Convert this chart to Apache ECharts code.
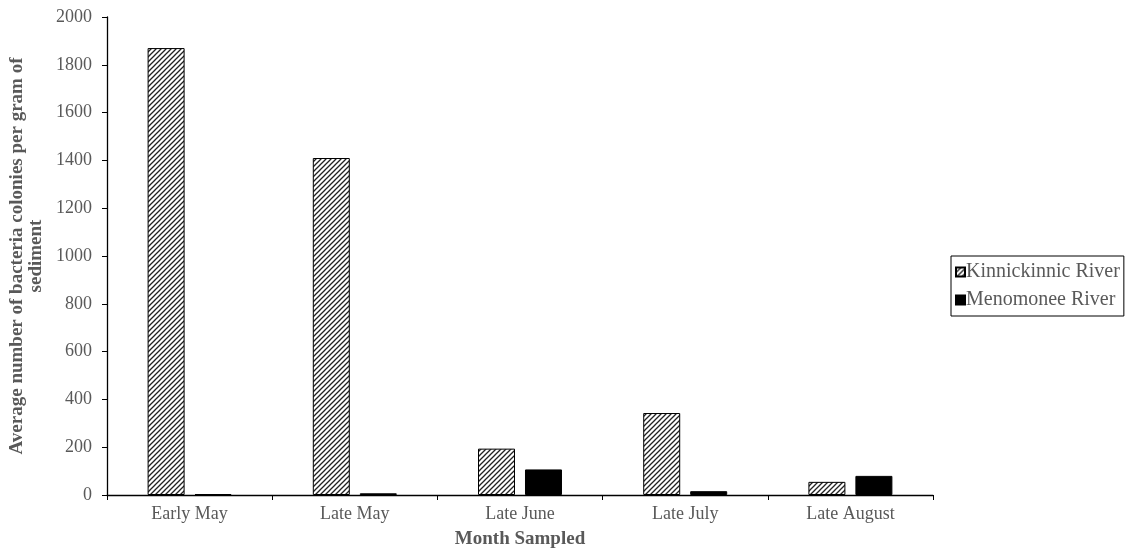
<!DOCTYPE html>
<html>
<head>
<meta charset="utf-8">
<script src="https://cdn.jsdelivr.net/npm/echarts@6/dist/echarts.min.js"></script>
<style>html,body{margin:0;padding:0;background:#fff;}#c{width:1127px;height:552px;}</style>
</head>
<body>
<div id="c"></div>
<script>
const categories = ['Early May', 'Late May', 'Late June', 'Late July', 'Late August'];
const kinnickinnic = [1870, 1410, 194, 343, 55];
const menomonee = [4, 7, 107, 16, 80];
const yTicks = [0, 200, 400, 600, 800, 1000, 1200, 1400, 1600, 1800, 2000];

function hatch() {
  const s = 5;
  const c = document.createElement('canvas');
  c.width = s; c.height = s;
  const g = c.getContext('2d');
  g.fillStyle = '#fff';
  g.fillRect(0, 0, s, s);
  g.strokeStyle = '#222';
  g.lineWidth = 1.3;
  g.beginPath();
  g.moveTo(-1, s + 1); g.lineTo(s + 1, -1);
  g.moveTo(-1, 1); g.lineTo(1, -1);
  g.moveTo(s - 1, s + 1); g.lineTo(s + 1, s - 1);
  g.stroke();
  return c;
}
const pattern = { image: hatch(), repeat: 'repeat' };
const font = 'Liberation Serif';
const chart = echarts.init(document.getElementById('c'));
chart.setOption({
  animation: false,
  textStyle: { fontFamily: font },
  grid: { left: 107, right: 194, top: 17, bottom: 57, containLabel: false, outerBoundsMode: 'none' },
  legend: {
    orient: 'vertical',
    left: 951, top: 256,
    borderColor: '#000', borderWidth: 1,
    padding: [6, 4, 6, 4],
    itemGap: 8,
    itemWidth: 9, itemHeight: 9,
    textStyle: { fontFamily: font, fontSize: 20, color: '#595959', padding: [0, 0, 0, -4] },
    data: [
      { name: 'Kinnickinnic River', icon: 'rect' },
      { name: 'Menomonee River', icon: 'rect' }
    ]
  },
  xAxis: {
    type: 'category',
    data: categories,
    name: 'Month Sampled',
    nameLocation: 'middle',
    nameGap: 35,
    nameTextStyle: { fontFamily: font, fontSize: 19, fontWeight: 'bold', color: '#595959' },
    axisLine: { lineStyle: { color: '#000', width: 1.3 } },
    axisTick: { show: true, length: 5, lineStyle: { color: '#000' } },
    axisLabel: { fontFamily: font, fontSize: 18, color: '#595959', margin: 10 }
  },
  yAxis: {
    type: 'value',
    min: 0, max: 2000, interval: 200,
    name: 'Average number of bacteria colonies per gram of\nsediment',
    nameLocation: 'middle',
    nameRotate: 90,
    nameGap: 61,
    nameTextStyle: { fontFamily: font, fontSize: 19, fontWeight: 'bold', color: '#595959', lineHeight: 19 },
    splitLine: { show: false },
    axisLine: { show: true, lineStyle: { color: '#000', width: 1.3 } },
    axisTick: { show: true, length: 5, lineStyle: { color: '#000' } },
    axisLabel: { fontFamily: font, fontSize: 18, color: '#595959', margin: 15,
      formatter: v => yTicks.includes(v) ? String(v) : '' }
  },
  series: [
    {
      name: 'Kinnickinnic River', type: 'bar', data: kinnickinnic,
      barWidth: 37, barGap: '27%',
      itemStyle: { color: pattern, borderColor: '#000', borderWidth: 1 }
    },
    {
      name: 'Menomonee River', type: 'bar', data: menomonee,
      barWidth: 37,
      itemStyle: { color: '#000', borderColor: '#000', borderWidth: 1 }
    }
  ]
});
</script>
</body>
</html>
